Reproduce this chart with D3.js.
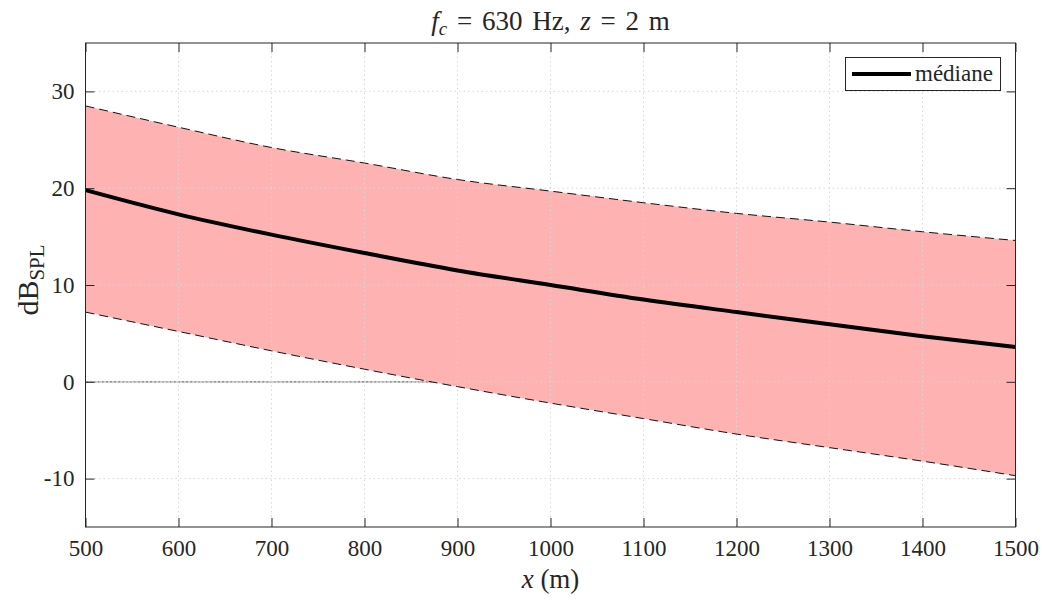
<!DOCTYPE html>
<html><head><meta charset="utf-8">
<script src="https://cdn.jsdelivr.net/npm/d3@7"></script>
<style>body{margin:0;background:#fff}svg{display:block}text{font-family:"Liberation Serif","DejaVu Serif",serif;fill:#262626}</style>
</head><body>
<script>
const xValues = [500,600,700,800,900,1000,1100,1200,1300,1400,1500];
const upper   = [28.5,26.3,24.2,22.6,20.9,19.7,18.5,17.4,16.5,15.5,14.6];
const median  = [19.8,17.3,15.2,13.3,11.5,10.0,8.5,7.2,5.95,4.7,3.6];
const lower   = [7.2,5.2,3.2,1.3,-0.5,-2.2,-3.8,-5.4,-6.8,-8.2,-9.7];
const xTicks = [500,600,700,800,900,1000,1100,1200,1300,1400,1500];
const yTicks = [-10,0,10,20,30];

const W=1042,H=601, L=85.5, R=1015.5, T=43, B=527;
const svg=d3.select("body").append("svg").attr("width",W).attr("height",H);
const x=d3.scaleLinear().domain([500,1500]).range([L,R]);
const y=d3.scaleLinear().domain([-15,35]).range([B,T]);
const data=xValues.map((v,i)=>({x:v,u:upper[i],m:median[i],l:lower[i]}));
const curve=d3.curveMonotoneX;

// zero line (under fill)
svg.append("line").attr("x1",x(500)).attr("x2",x(1500)).attr("y1",y(0)).attr("y2",y(0))
  .attr("stroke","#6e6e6e").attr("stroke-width",1.3).attr("stroke-dasharray","3,1");

// fill
svg.append("path").datum(data).attr("fill","#ffb2b2")
  .attr("d",d3.area().x(d=>x(d.x)).y0(d=>y(d.l)).y1(d=>y(d.u)).curve(curve));

// grid
const g=svg.append("g");
xTicks.forEach(t=>g.append("line").attr("x1",x(t)).attr("x2",x(t)).attr("y1",T).attr("y2",B)
  .attr("stroke","#d8d8d8").attr("stroke-width",1).attr("stroke-dasharray","1.5,3"));
yTicks.forEach(t=>g.append("line").attr("x1",L).attr("x2",R).attr("y1",y(t)).attr("y2",y(t))
  .attr("stroke","#d8d8d8").attr("stroke-width",1).attr("stroke-dasharray","1.5,3"));

// bounds
[ "u","l" ].forEach(k=>svg.append("path").datum(data).attr("fill","none").attr("stroke","#111")
  .attr("stroke-width",1).attr("stroke-dasharray","9,5")
  .attr("d",d3.line().x(d=>x(d.x)).y(d=>y(d[k])).curve(curve)));

// median
svg.append("path").datum(data).attr("fill","none").attr("stroke","#000").attr("stroke-width",4)
  .attr("d",d3.line().x(d=>x(d.x)).y(d=>y(d.m)).curve(curve));

// axes
const axB=d3.axisBottom(x).tickValues(xTicks).tickSize(-9).tickPadding(13).tickFormat(d3.format("d"));
const axT=d3.axisTop(x).tickValues(xTicks).tickSize(-9).tickFormat("");
const axLf=d3.axisLeft(y).tickValues(yTicks).tickSize(-9).tickPadding(11).tickFormat(d=>d<0?"-"+Math.abs(d):d);
const axRt=d3.axisRight(y).tickValues(yTicks).tickSize(-9).tickFormat("");
function style(sel){sel.select(".domain").attr("stroke","#262626").attr("stroke-width",1);
  sel.selectAll(".tick line").attr("stroke","#262626");
  sel.selectAll(".tick text").attr("font-size",23).attr("fill","#262626");}
svg.append("g").attr("transform",`translate(0,${B})`).call(axB).call(style);
svg.append("g").attr("transform",`translate(0,${T})`).call(axT).call(style);
svg.append("g").attr("transform",`translate(${L},0)`).call(axLf).call(style);
svg.append("g").attr("transform",`translate(${R},0)`).call(axRt).call(style);
svg.selectAll(".domain").attr("d",null);
svg.append("rect").attr("x",L).attr("y",T).attr("width",R-L).attr("height",B-T)
  .attr("fill","none").attr("stroke","#262626").attr("stroke-width",1);

// title
const title=svg.append("text").attr("x",(L+R)/2).attr("y",30).attr("text-anchor","middle").attr("font-size",27).attr("word-spacing",3);
title.append("tspan").attr("font-style","italic").text("f");
title.append("tspan").attr("font-style","italic").attr("font-size",19).attr("dy",5).text("c");
title.append("tspan").attr("dy",-5).text(" = 630 Hz, ");
title.append("tspan").attr("font-style","italic").text("z");
title.append("tspan").text(" = 2 m");

// x label
const xl=svg.append("text").attr("x",(L+R)/2).attr("y",588).attr("text-anchor","middle").attr("font-size",27);
xl.append("tspan").attr("font-style","italic").text("x");
xl.append("tspan").text(" (m)");

// y label
const yl=svg.append("text").attr("transform",`translate(38,280) rotate(-90)`).attr("text-anchor","middle").attr("font-size",30);
yl.append("tspan").text("dB");
yl.append("tspan").attr("font-size",21).attr("dy",6).text("SPL");

// legend
const lg=svg.append("g");
lg.append("rect").attr("x",845.5).attr("y",57.5).attr("width",155).attr("height",33).attr("fill","#fff").attr("stroke","#262626").attr("stroke-width",1);
lg.append("line").attr("x1",852).attr("x2",911).attr("y1",74).attr("y2",74).attr("stroke","#000").attr("stroke-width",4);
lg.append("text").attr("x",915).attr("y",81).attr("font-size",23).text("médiane");
</script>
</body></html>
